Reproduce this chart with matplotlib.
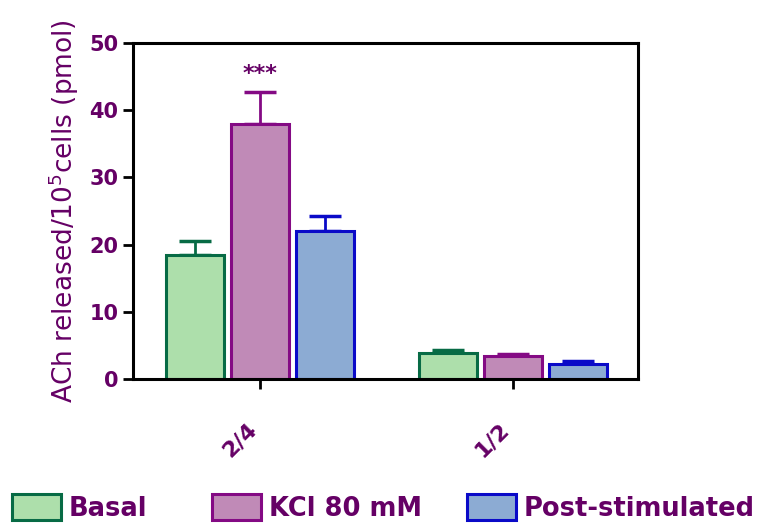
import numpy as np
import matplotlib
matplotlib.use('Agg')
import matplotlib.pyplot as plt
from matplotlib.patches import Patch

# dados
grupos = ['2/4', '1/2']
series = ['Basal', 'KCl 80 mM', 'Post-stimulated']
medias = {
    'Basal': [18.4, 3.9],
    'KCl 80 mM': [38.0, 3.4],
    'Post-stimulated': [22.0, 2.3],
}
erros = {
    'Basal': [2.2, 0.35],
    'KCl 80 mM': [4.7, 0.3],
    'Post-stimulated': [2.2, 0.4],
}
cores_fill = {'Basal': '#addfab', 'KCl 80 mM': '#c08ab7', 'Post-stimulated': '#8cabd3'}
cores_borda = {'Basal': '#076b45', 'KCl 80 mM': '#840a84', 'Post-stimulated': '#0a0ac8'}
roxo = '#650065'

plt.rcParams['font.family'] = ['DejaVu Sans']

fig = plt.figure(figsize=(7.66, 5.24), dpi=100)
ax = fig.add_axes([133/766, 1 - 379/524, (638-133)/766, (379-43)/524])

x = np.arange(len(grupos))
largura = 0.228
passo = 0.257
for i, s in enumerate(series):
    pos = x + (i - 1) * passo
    ax.errorbar(pos, medias[s], yerr=[np.zeros(len(grupos)), erros[s]], fmt='none',
                ecolor=cores_borda[s], elinewidth=2, capsize=11.5, capthick=2.5, zorder=1)
    ax.bar(pos, medias[s], width=largura, color=cores_fill[s], edgecolor=cores_borda[s],
           linewidth=2.2, zorder=2, label=s)

# asteriscos de significancia
ax.text(x[0], medias['KCl 80 mM'][0] + erros['KCl 80 mM'][0] + 1.2, '***', ha='center', va='bottom',
        color=roxo, fontsize=16, fontweight='bold')

ax.set_xlim(-0.502, 1.494)
ax.set_ylim(0, 50)
ax.set_yticks([0, 10, 20, 30, 40, 50])
ax.set_xticks(x)
ax.set_xticklabels(grupos, rotation=45, ha='right', fontsize=16, fontweight='bold', color=roxo)
for lab in ax.get_yticklabels():
    lab.set_fontweight('bold')
ax.tick_params(axis='y', labelsize=15, labelcolor=roxo, width=2, length=7, direction='out')
ax.tick_params(axis='x', width=2, length=7, direction='out', pad=22)
for sp in ax.spines.values():
    sp.set_linewidth(2.2)

ax.set_ylabel('ACh released/10$^{5}$cells (pmol)', fontsize=19, color=roxo, labelpad=6)

# legenda: uma entrada por vez, para acertar os espacamentos desiguais
x_legenda = [12, 212, 467]
for s, xl in zip(series, x_legenda):
    h = Patch(facecolor=cores_fill[s], edgecolor=cores_borda[s], linewidth=2.2)
    leg = fig.legend([h], [s], loc='lower left', bbox_to_anchor=(xl/766, 0.004), frameon=False,
                     prop={'size': 18.5, 'weight': 'bold'}, labelcolor=roxo, handlelength=1.9,
                     handleheight=1.15, handletextpad=0.3, borderaxespad=0, borderpad=0)

fig.savefig('out.png', dpi=100)
